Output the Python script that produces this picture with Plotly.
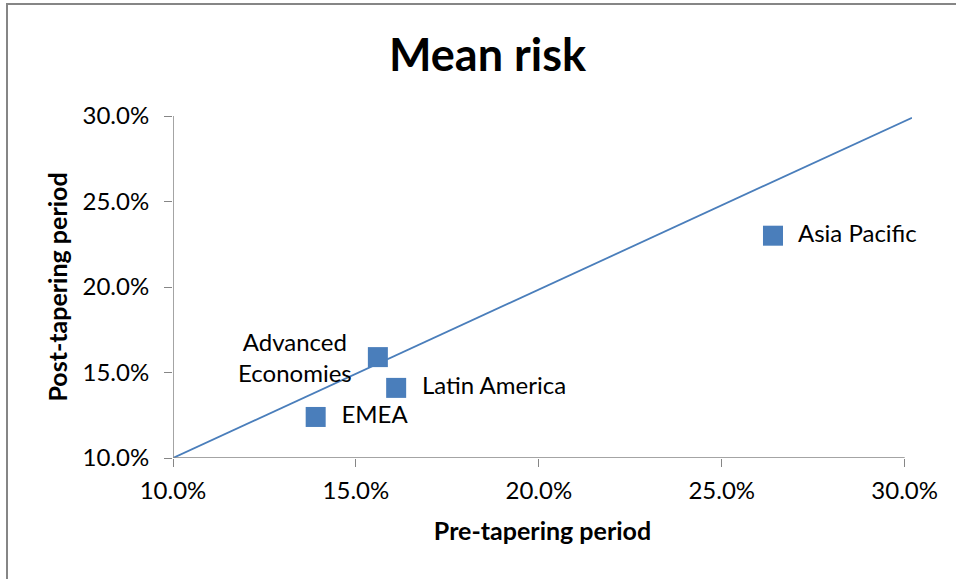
import plotly.graph_objects as go

regions = ["Asia Pacific", "Advanced Economies", "Latin America", "EMEA"]
pre = [0.264, 0.156, 0.161, 0.139]
post = [0.230, 0.159, 0.141, 0.124]
line_x = [0.100, 0.302]
line_y = [0.100, 0.299]
ticks = [0.10, 0.15, 0.20, 0.25, 0.30]
tick_text = ["10.0%", "15.0%", "20.0%", "25.0%", "30.0%"]

blue = "#4A7EBB"
font = "Lato, 'Open Sans', sans-serif"
fs = 24

fig = go.Figure()
fig.add_trace(go.Scatter(x=line_x, y=line_y, mode="lines",
                         line=dict(color=blue, width=1.8), hoverinfo="skip",
                         showlegend=False))
right_idx = [0, 2, 3]
fig.add_trace(go.Scatter(
    x=[pre[i] for i in right_idx], y=[post[i] for i in right_idx],
    mode="markers+text", text=["  " + regions[i] for i in right_idx],
    textposition="middle right",
    textfont=dict(family=font, size=fs, color="#000"),
    marker=dict(symbol="square", size=20, color=blue),
    showlegend=False, cliponaxis=False))
fig.add_trace(go.Scatter(
    x=[pre[1]], y=[post[1]], mode="markers",
    marker=dict(symbol="square", size=20, color=blue),
    showlegend=False, cliponaxis=False))
fig.add_annotation(x=pre[1], y=post[1], xref="x", yref="y",
                   text="Advanced<br>Economies", showarrow=False,
                   xanchor="right", yanchor="middle", align="center",
                   xshift=-24, yshift=0,
                   font=dict(family=font, size=fs, color="#000"))

axis_common = dict(tickvals=ticks, ticktext=tick_text, ticks="outside",
                   ticklen=8, tickcolor="#868686", showgrid=False,
                   zeroline=False, showline=False,
                   tickfont=dict(family=font, size=fs, color="#000"))
fig.update_xaxes(range=[0.1, 0.302], **axis_common, ticklabelstandoff=3,
                 title=dict(text="<b>Pre-tapering period</b>", standoff=19,
                            font=dict(family=font, size=25, color="#000")))
fig.update_yaxes(range=[0.1, 0.3], **axis_common, ticklabelstandoff=10,
                 title=dict(text="<b>Post-tapering period</b>", standoff=7,
                            font=dict(family=font, size=25, color="#000")))

# axis lines (10% to 30%)
fig.add_shape(type="line", xref="x", yref="y", x0=0.1, x1=0.3, y0=0.1, y1=0.1,
              line=dict(color="#868686", width=1.5))
fig.add_shape(type="line", xref="x", yref="y", x0=0.1, x1=0.1, y0=0.1, y1=0.3,
              line=dict(color="#868686", width=1.5))
# chart border
fig.add_shape(type="rect", xref="paper", yref="paper",
              x0=(7 - 173) / 739, x1=1.3, y0=-0.5, y1=1 + (116 - 4) / 342,
              line=dict(color="#868686", width=2))

fig.update_layout(
    width=956, height=579,
    margin=dict(l=173, r=44, t=116, b=121),
    paper_bgcolor="white", plot_bgcolor="white",
    title=dict(text="<b>Mean risk</b>", x=0.51, xanchor="center",
               y=1 - 55 / 579, yanchor="middle",
               font=dict(family=font, size=45, color="#000")),
)
fig.write_html("out.html", config={"displayModeBar": False},
               post_script="document.body.style.margin='0px';")
